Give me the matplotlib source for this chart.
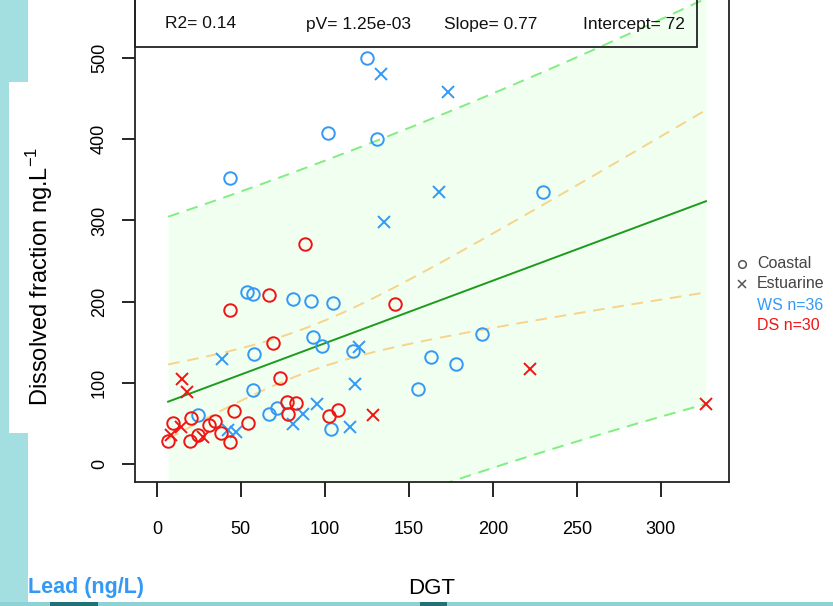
import numpy as np
import matplotlib
matplotlib.use("Agg")
import matplotlib.pyplot as plt
from matplotlib.patches import Rectangle

plt.rcParams['font.family'] = ['Liberation Sans', 'DejaVu Sans']
plt.rcParams['mathtext.fontset'] = 'custom'
plt.rcParams['mathtext.rm'] = 'Liberation Sans'
plt.rcParams['axes.unicode_minus'] = False

# WS (wet season) points, blue
ws_coastal_x = [125.2, 101.8, 130.8, 43.8, 229.6, 53.4, 57.0, 80.8, 91.5, 104.6, 57.7, 92.7,
                98.2, 116.5, 162.9, 178.2, 193.5, 155.6, 103.4, 57.3, 24.6, 66.8, 71.6]
ws_coastal_y = [499.6, 408, 400, 352.6, 335.4, 212, 209, 203, 201, 198, 135, 156.8,
                146, 139, 131.8, 122.8, 160, 92.4, 42.7, 91.1, 60.3, 61.6, 69.3]
ws_estuarine_x = [133.2, 173.2, 167.7, 135.1, 38.5, 120.2, 117.9, 87.1, 95.4, 80.8, 114.9, 42.4, 47.4]
ws_estuarine_y = [481, 458.5, 335, 298.4, 129.7, 143.7, 98.2, 61.2, 73.5, 49.3, 46, 41.9, 39.8]

# DS (dry season) points, red
ds_coastal_x = [43.5, 66.7, 88.1, 68.9, 141.7, 73.2, 45.8, 77.2, 82.6, 78.2, 102.6, 107.7,
                54.3, 43.5, 38.1, 34.5, 31.1, 24.6, 19.6, 20.6, 9.7, 6.7]
ds_coastal_y = [189.7, 208, 271, 149.4, 196.7, 105.5, 65.7, 76.7, 74.7, 61.6, 59.1, 66.5,
                50.1, 27.5, 38.5, 53, 48, 35.7, 28.7, 56.3, 50.1, 28.3]
ds_estuarine_x = [15.1, 18.0, 14.1, 8.2, 27.2, 128.4, 222.0, 326.8]
ds_estuarine_y = [104.7, 89, 46, 35.7, 32.9, 60.3, 117, 74]

header = ["R2= 0.14", "pV= 1.25e-03", "Slope= 0.77", "Intercept= 72"]
t_975 = 1.998  # t quantile, df = 64

BLUE = "#3399f5"
RED = "#f01414"
TEAL = "#a3dfe0"

x_all = np.array(ws_coastal_x + ws_estuarine_x + ds_coastal_x + ds_estuarine_x)
y_all = np.array(ws_coastal_y + ws_estuarine_y + ds_coastal_y + ds_estuarine_y)

# linear fit with confidence / prediction bands
n = len(x_all)
slope, intercept = np.polyfit(x_all, y_all, 1)
resid = y_all - (intercept + slope * x_all)
s = np.sqrt(np.sum(resid ** 2) / (n - 2))
xbar = x_all.mean()
sxx = np.sum((x_all - xbar) ** 2)
xg = np.linspace(x_all.min(), x_all.max(), 300)
fit = intercept + slope * xg
se_conf = s * np.sqrt(1 / n + (xg - xbar) ** 2 / sxx)
se_pred = s * np.sqrt(1 + 1 / n + (xg - xbar) ** 2 / sxx)

fig = plt.figure(figsize=(8.33, 6.06), dpi=100)

# background decoration (pixel coordinates)
bg = fig.add_axes([0, 0, 1, 1], zorder=-5)
bg.set_xlim(0, 833)
bg.set_ylim(606, 0)
bg.axis("off")
bg.add_patch(Rectangle((0, 0), 28, 82, color=TEAL, lw=0))
bg.add_patch(Rectangle((0, 0), 9, 606, color=TEAL, lw=0))
bg.add_patch(Rectangle((0, 433), 28, 173, color=TEAL, lw=0))
bg.add_patch(Rectangle((0, 602), 833, 4, color="#8dd2d5", lw=0))
bg.add_patch(Rectangle((50, 602), 48, 4, color="#1f7378", lw=0))
bg.add_patch(Rectangle((420, 602), 27, 4, color="#1f7378", lw=0))

# plot region runs past the top of the image (top of box is cut off)
ax = fig.add_axes([135 / 833, 1 - 482 / 606, (729 - 135) / 833, (482 + 6) / 606])
ax.set_xlim(-13, 340.5)
ax.set_ylim(-22, 578.9)

ax.fill_between(xg, fit - t_975 * se_pred, fit + t_975 * se_pred, color="#f0fff0", lw=0, zorder=0)
ax.plot(xg, fit + t_975 * se_pred, color="#80ee80", lw=1.4, ls=(0, (6, 4)), zorder=1)
ax.plot(xg, fit - t_975 * se_pred, color="#80ee80", lw=1.4, ls=(0, (6, 4)), zorder=1)
ax.plot(xg, fit + t_975 * se_conf, color="#f7d48a", lw=1.4, ls=(0, (6, 4)), zorder=1)
ax.plot(xg, fit - t_975 * se_conf, color="#f7d48a", lw=1.4, ls=(0, (6, 4)), zorder=1)
ax.plot(xg, fit, color="#1e9a1e", lw=1.4, zorder=2)

mk = dict(ls="none", ms=9, mew=1.4, mfc="none", zorder=3)
ax.plot(ws_coastal_x, ws_coastal_y, marker="o", mec=BLUE, **mk)
ax.plot(ws_estuarine_x, ws_estuarine_y, marker="x", mec=BLUE, **mk)
ax.plot(ds_coastal_x, ds_coastal_y, marker="o", mec=RED, **mk)
ax.plot(ds_estuarine_x, ds_estuarine_y, marker="x", mec=RED, **mk)

ax.set_xticks(np.arange(0, 301, 50))
ax.set_yticks(np.arange(0, 501, 100))
ax.tick_params(axis="x", length=11, width=1.2, pad=17, labelsize=13, direction="out")
ax.tick_params(axis="y", length=9.5, width=1.2, pad=10, labelsize=13, direction="out")
for lab in ax.get_yticklabels():
    lab.set_rotation(90)
    lab.set_va("center")
for sp in ax.spines.values():
    sp.set_linewidth(1.3)
    sp.set_color("#222222")

# header box with fit statistics (transparent, drawn over the plot)
top = fig.add_axes([0, 0, 1, 1], zorder=5)
top.set_xlim(0, 833)
top.set_ylim(606, 0)
top.axis("off")
top.patch.set_alpha(0)
top.add_patch(Rectangle((135, -10), 562, 57, fill=False, ec="#222222", lw=1.3))
for txt, px in zip(header, [165, 306, 444, 583]):
    top.text(px, 24, txt, fontsize=12.5, va="center", ha="left", color="#111111")

# labels
bg.text(40, 276, "Dissolved fraction ng.L$^{\\mathregular{-1}}$", rotation=90, fontsize=17,
        ha="center", va="center")
bg.text(432, 588, "DGT", fontsize=16, ha="center", va="center")
bg.text(28, 588, "Lead (ng/L)", fontsize=15.5, fontweight="bold", color=BLUE,
        ha="left", va="center")

# legend
bg.plot([742], [264], marker="o", ms=5.5, mfc="none", mec="#555555", mew=1.1)
bg.plot([742], [284], marker="x", ms=5.5, mec="#555555", mew=1.1)
leg = [("Coastal", "#444444", 264), ("Estuarine", "#444444", 284),
       ("WS n=36", BLUE, 305), ("DS n=30", RED, 326)]
for txt, col, py in leg:
    bg.text(757, py, txt, fontsize=11.5, color=col, ha="left", va="center")

fig.savefig("out.png", dpi=100)
